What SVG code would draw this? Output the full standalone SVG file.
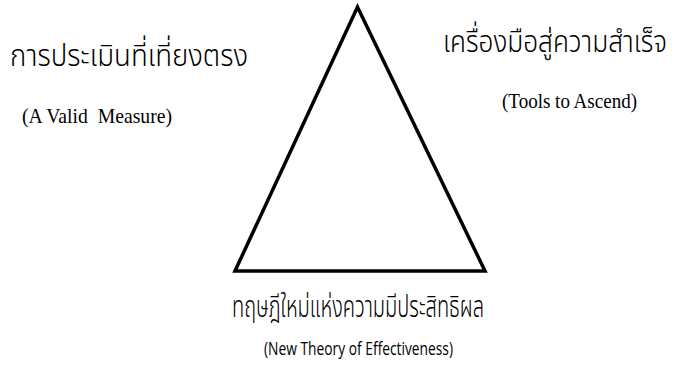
<svg xmlns="http://www.w3.org/2000/svg" width="684" height="371" viewBox="0 0 684 371">
<style>
.th{font-family:"Noto Sans Thai","Noto Sans","DejaVu Sans",sans-serif;font-size:31px;font-weight:300;fill:#000}
.en{font-family:"Liberation Serif","Times New Roman",serif;font-size:21px;fill:#000}
.ens{font-family:"Open Sans","Noto Sans",sans-serif;font-size:19px;fill:#000}
</style>
<rect width="684" height="371" fill="#fff"/>
<g id="triangle">
<polygon points="357.5,7 235,271 485,271" fill="none" stroke="#000" stroke-width="3.5" stroke-linejoin="miter"/>
</g>
<g id="node-left">
<text class="th" x="10" y="66" textLength="238" lengthAdjust="spacingAndGlyphs">การประเมินที่เที่ยงตรง</text>
<text class="en" x="22" y="123" textLength="150" lengthAdjust="spacingAndGlyphs" xml:space="preserve">(A Valid  Measure)</text>
</g>
<g id="node-right">
<text class="th" x="443" y="52" textLength="224" lengthAdjust="spacingAndGlyphs">เครื่องมือสู่ความสำเร็จ</text>
<text class="en" x="502" y="108" textLength="135" lengthAdjust="spacingAndGlyphs">(Tools to Ascend)</text>
</g>
<g id="node-bottom">
<text class="th" x="232" y="317" textLength="252" lengthAdjust="spacingAndGlyphs">ทฤษฎีใหม่แห่งความมีประสิทธิผล</text>
<text class="ens" x="264" y="355" textLength="189" lengthAdjust="spacingAndGlyphs">(New Theory of Effectiveness)</text>
</g>
<g id="connectors"></g>
</svg>
